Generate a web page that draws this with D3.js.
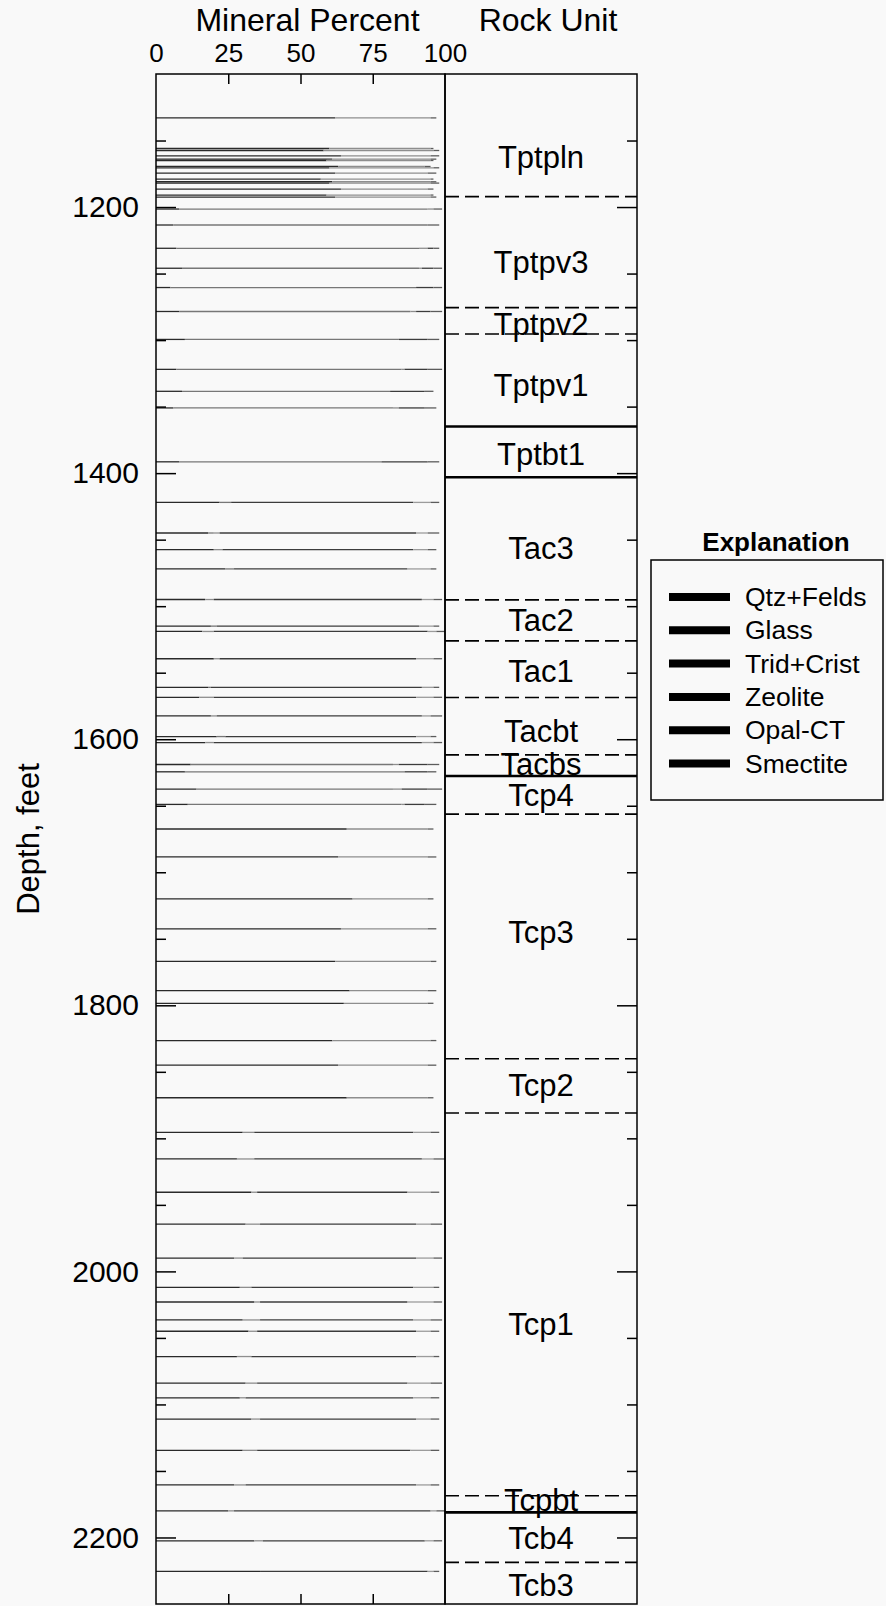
<!DOCTYPE html>
<html>
<head>
<meta charset="utf-8">
<script src="https://cdn.jsdelivr.net/npm/d3@7"></script>
<style>
body { margin: 0; background: #f9f9f9; }
svg { display: block; font-family: "Liberation Sans", Arial, Helvetica, sans-serif; }
.axis .domain { display: none; }
.axis line { stroke: #000; stroke-width: 1.5; }
.axis text { fill: #000; }
</style>
</head>
<body>
<script>
// mineral names, in stacking order (left to right)
var minerals = ["Qtz+Felds", "Glass", "Trid+Crist", "Zeolite", "Opal-CT", "Smectite"];

// sample depths, feet
var sampleDepth = [1133, 1156, 1157.5, 1161.5, 1164, 1165, 1169.5, 1170.5, 1174.5, 1179, 1181, 1182, 1186.5, 1191, 1192.5,
    1201.5, 1213.5, 1231, 1246, 1260.5, 1278.5, 1299.5, 1322, 1338.5, 1351, 1391.5, 1422, 1445, 1457.5, 1472,
    1495, 1515, 1519, 1539.5, 1561, 1568.5, 1582.5, 1598, 1602.5, 1619, 1624.5, 1637.5, 1649, 1667.5,
    1688.5, 1720, 1742.5, 1767, 1789, 1798.5, 1826.5, 1845, 1869.5,
    1895.5, 1915.5, 1940.5, 1964.5, 1990, 2012, 2023, 2036.5, 2045, 2064,
    2084, 2095, 2111, 2134.5, 2160.5, 2180, 2202.5, 2225.5];

// mineral percent for each sample
var qtzFelds = [62, 60, 58, 64, 61, 59, 63, 60, 62, 57, 61, 60, 64, 59, 62,
    8, 6, 7, 9, 5, 8, 10, 7, 9, 6, 8, 22, 18, 20, 24,
    17, 19, 16, 20, 18, 15, 19, 21, 17, 12, 10, 14, 11, 66,
    63, 68, 64, 62, 67, 65, 61, 63, 66,
    30, 28, 33, 31, 27, 29, 34, 30, 32, 28,
    31, 29, 33, 30, 27, 25, 34, 36];
var glass = [0, 0, 0, 0, 0, 0, 0, 0, 0, 0, 0, 0, 0, 0, 0,
    86, 88, 84, 82, 85, 80, 74, 78, 72, 76, 70, 4, 2, 0, 3,
    0, 2, 0, 0, 1, 0, 0, 3, 0, 70, 76, 68, 74, 0,
    0, 0, 0, 0, 0, 0, 0, 0, 0,
    0, 0, 0, 0, 0, 0, 0, 0, 0, 0,
    0, 0, 0, 0, 0, 0, 0, 0];
var tridCrist = [33, 35, 38, 31, 34, 36, 30, 36, 32, 38, 34, 35, 30, 36, 33,
    2, 0, 3, 1, 0, 2, 0, 1, 0, 2, 0, 0, 2, 3, 0,
    3, 0, 4, 2, 0, 5, 2, 0, 3, 2, 0, 3, 1, 28,
    31, 26, 30, 33, 27, 29, 34, 31, 28,
    4, 6, 2, 5, 3, 4, 2, 6, 3, 5,
    4, 2, 3, 5, 4, 2, 3, 0];
var zeolite = [0, 0, 0, 0, 0, 0, 0, 0, 0, 0, 0, 0, 0, 0, 0,
    0, 0, 2, 4, 6, 5, 10, 8, 12, 9, 16, 63, 68, 66, 60,
    72, 70, 74, 68, 73, 70, 71, 66, 72, 10, 8, 9, 7, 0,
    0, 0, 0, 0, 0, 0, 0, 0, 0,
    55, 58, 52, 54, 60, 56, 51, 53, 55, 57,
    52, 58, 54, 53, 59, 68, 56, 58];
var opalCT = [0, 0, 0, 0, 0, 0, 0, 0, 0, 0, 0, 0, 0, 0, 0,
    0, 0, 0, 0, 0, 0, 0, 0, 0, 0, 0, 6, 4, 5, 8,
    4, 5, 3, 6, 4, 6, 3, 5, 4, 0, 0, 0, 0, 0,
    0, 0, 0, 0, 0, 0, 0, 0, 0,
    6, 4, 8, 5, 6, 7, 9, 6, 5, 6,
    8, 6, 5, 7, 5, 2, 3, 2];
var smectite = [2, 1, 2, 3, 2, 1, 2, 2, 3, 1, 2, 3, 2, 1, 2,
    3, 4, 2, 3, 3, 4, 4, 5, 3, 4, 4, 3, 4, 3, 2,
    3, 2, 3, 3, 2, 3, 4, 2, 3, 4, 3, 5, 4, 2,
    3, 2, 3, 2, 3, 2, 2, 3, 2,
    3, 4, 3, 4, 3, 2, 3, 4, 3, 2,
    4, 3, 3, 3, 3, 3, 3, 2];

// rock units: name, top contact depth, contact type, label depth
var unitNames = ["Tptpln", "Tptpv3", "Tptpv2", "Tptpv1", "Tptbt1", "Tac3", "Tac2", "Tac1", "Tacbt", "Tacbs",
    "Tcp4", "Tcp3", "Tcp2", "Tcp1", "Tcpbt", "Tcb4", "Tcb3"];
var unitTop = [1100, 1192.2, 1275.6, 1295.4, 1365, 1403.1, 1495.3, 1526.1, 1568.7, 1611.8,
    1627.6, 1656.3, 1840.2, 1881, 2168.6, 2181.1, 2218.7];
var unitContact = ["none", "dash", "dash", "dash", "solid", "solid", "dash", "dash", "dash", "dash",
    "solid", "dash", "dash", "dash", "dash", "solid", "dash"];
var unitLabelDepth = [1170.6, 1249.5, 1296.1, 1341.9, 1393.8, 1464.7, 1518.4, 1556.7, 1601.8, 1626.8,
    1650.1, 1752.8, 1868.5, 2047.6, 2180.4, 2208.4, 2244.3];

var percentTicks = [0, 25, 50, 75, 100];
var depthLabels = [1200, 1400, 1600, 1800, 2000, 2200];
var depthMinor = [1150, 1200, 1250, 1300, 1350, 1400, 1450, 1500, 1550, 1600, 1650, 1700, 1750, 1800,
    1850, 1900, 1950, 2000, 2050, 2100, 2150, 2200];

// grey shades the minerals print as
var mineralShade = ["#2a2a2a", "#777777", "#8e8e8e", "#3c3c3c", "#9c9c9c", "#5c5c5c"];

var width = 886, height = 1606;
var plotLeft = 156, plotMid = 445, plotRight = 637, plotTop = 74, plotBottom = 1604;

var svg = d3.select("body").append("svg")
    .attr("width", width)
    .attr("height", height);

var x = d3.scaleLinear().domain([0, 100]).range([plotLeft, plotMid]);
var y = d3.scaleLinear().domain([1100, 2250]).range([plotTop, plotBottom]);
var shade = d3.scaleOrdinal().domain(minerals).range(mineralShade);

// stack the mineral percents per sample
var rows = sampleDepth.map(function (d, i) {
    return {
        depth: d,
        "Qtz+Felds": qtzFelds[i], "Glass": glass[i], "Trid+Crist": tridCrist[i],
        "Zeolite": zeolite[i], "Opal-CT": opalCT[i], "Smectite": smectite[i]
    };
});
var series = d3.stack().keys(minerals)(rows);

var samples = svg.append("g");
series.forEach(function (s) {
    samples.selectAll(null)
        .data(s.filter(function (d) { return d[1] > d[0]; }))
        .enter().append("line")
        .attr("x1", function (d) { return x(d[0]); })
        .attr("x2", function (d) { return x(d[1]); })
        .attr("y1", function (d) { return y(d.data.depth); })
        .attr("y2", function (d) { return y(d.data.depth); })
        .attr("stroke", shade(s.key))
        .attr("stroke-width", 1.3);
});

// rock unit labels
svg.append("g").selectAll("text")
    .data(unitNames)
    .enter().append("text")
    .attr("x", (plotMid + plotRight) / 2)
    .attr("y", function (d, i) { return y(unitLabelDepth[i]); })
    .attr("text-anchor", "middle")
    .style("font-size", "31px")
    .text(function (d) { return d; });

// contacts between units
svg.append("g").selectAll("line")
    .data(unitTop.filter(function (d, i) { return unitContact[i] != "none"; }))
    .enter().append("line")
    .attr("x1", plotMid)
    .attr("x2", plotRight)
    .attr("y1", function (d) { return y(d); })
    .attr("y2", function (d) { return y(d); })
    .attr("stroke", "#000")
    .attr("stroke-width", function (d) { return unitContact[unitTop.indexOf(d)] == "solid" ? 2.6 : 1.6; })
    .attr("stroke-dasharray", function (d) { return unitContact[unitTop.indexOf(d)] == "solid" ? null : "14,6"; });

// frames
svg.append("rect")
    .attr("x", plotLeft).attr("y", plotTop)
    .attr("width", plotMid - plotLeft).attr("height", plotBottom - plotTop)
    .attr("fill", "none").attr("stroke", "#000").attr("stroke-width", 1.5);
svg.append("rect")
    .attr("x", plotMid).attr("y", plotTop)
    .attr("width", plotRight - plotMid).attr("height", plotBottom - plotTop)
    .attr("fill", "none").attr("stroke", "#000").attr("stroke-width", 1.5);

// depth ticks on both sides, pointing in
function longTick(sel) {
    sel.selectAll(".tick line").attr("x2", function () {
        var v = +d3.select(this.parentNode).datum();
        var x2 = +d3.select(this).attr("x2");
        return depthLabels.indexOf(v) >= 0 ? x2 * 2 : x2;
    });
}
svg.append("g").attr("class", "axis")
    .attr("transform", "translate(" + plotLeft + ",0)")
    .call(d3.axisRight(y).tickValues(depthMinor).tickSize(10).tickFormat(""))
    .call(longTick);
svg.append("g").attr("class", "axis")
    .attr("transform", "translate(" + plotRight + ",0)")
    .call(d3.axisLeft(y).tickValues(depthMinor).tickSize(10).tickFormat(""))
    .call(longTick);

// depth labels
svg.append("g").attr("class", "axis")
    .attr("transform", "translate(" + plotLeft + ",0)")
    .call(d3.axisLeft(y).tickValues(depthLabels).tickSize(0).tickPadding(17).tickFormat(d3.format("d")))
    .call(function (g) { g.selectAll("text").style("font-size", "30px").attr("font-family", null); });

// percent ticks, top and bottom
svg.append("g").attr("class", "axis")
    .attr("transform", "translate(0," + plotTop + ")")
    .call(d3.axisBottom(x).tickValues([25, 50, 75]).tickSize(10).tickFormat(""));
svg.append("g").attr("class", "axis")
    .attr("transform", "translate(0," + plotBottom + ")")
    .call(d3.axisTop(x).tickValues([25, 50, 75]).tickSize(10).tickFormat(""));
svg.append("g").attr("class", "axis")
    .attr("transform", "translate(0," + plotTop + ")")
    .call(d3.axisTop(x).tickValues(percentTicks).tickSize(0).tickPadding(12))
    .call(function (g) { g.selectAll("text").style("font-size", "26px").attr("font-family", null); });

// titles
svg.append("text")
    .attr("x", (plotLeft + plotMid) / 2 + 7).attr("y", 31)
    .attr("text-anchor", "middle")
    .style("font-size", "32px")
    .text("Mineral Percent");
svg.append("text")
    .attr("x", (plotMid + plotRight) / 2 + 7).attr("y", 31)
    .attr("text-anchor", "middle")
    .style("font-size", "32px")
    .text("Rock Unit");
svg.append("text")
    .attr("transform", "translate(39,839) rotate(-90)")
    .attr("text-anchor", "middle")
    .style("font-size", "31px")
    .text("Depth, feet");

// explanation
var legend = svg.append("g");
legend.append("text")
    .attr("x", 776).attr("y", 551)
    .attr("text-anchor", "middle")
    .style("font-size", "26px")
    .style("font-weight", "bold")
    .text("Explanation");
legend.append("rect")
    .attr("x", 651).attr("y", 560)
    .attr("width", 232).attr("height", 240)
    .attr("fill", "none").attr("stroke", "#000").attr("stroke-width", 1.5);
var item = legend.selectAll("g.item")
    .data(minerals)
    .enter().append("g")
    .attr("class", "item")
    .attr("transform", function (d, i) { return "translate(0," + (597 + i * 33.3) + ")"; });
item.append("line")
    .attr("x1", 669).attr("x2", 730)
    .attr("stroke", "#000")
    .attr("stroke-width", 8);
item.append("text")
    .attr("x", 745).attr("dy", "0.34em")
    .style("font-size", "26.5px")
    .text(function (d) { return d; });
</script>
</body>
</html>
